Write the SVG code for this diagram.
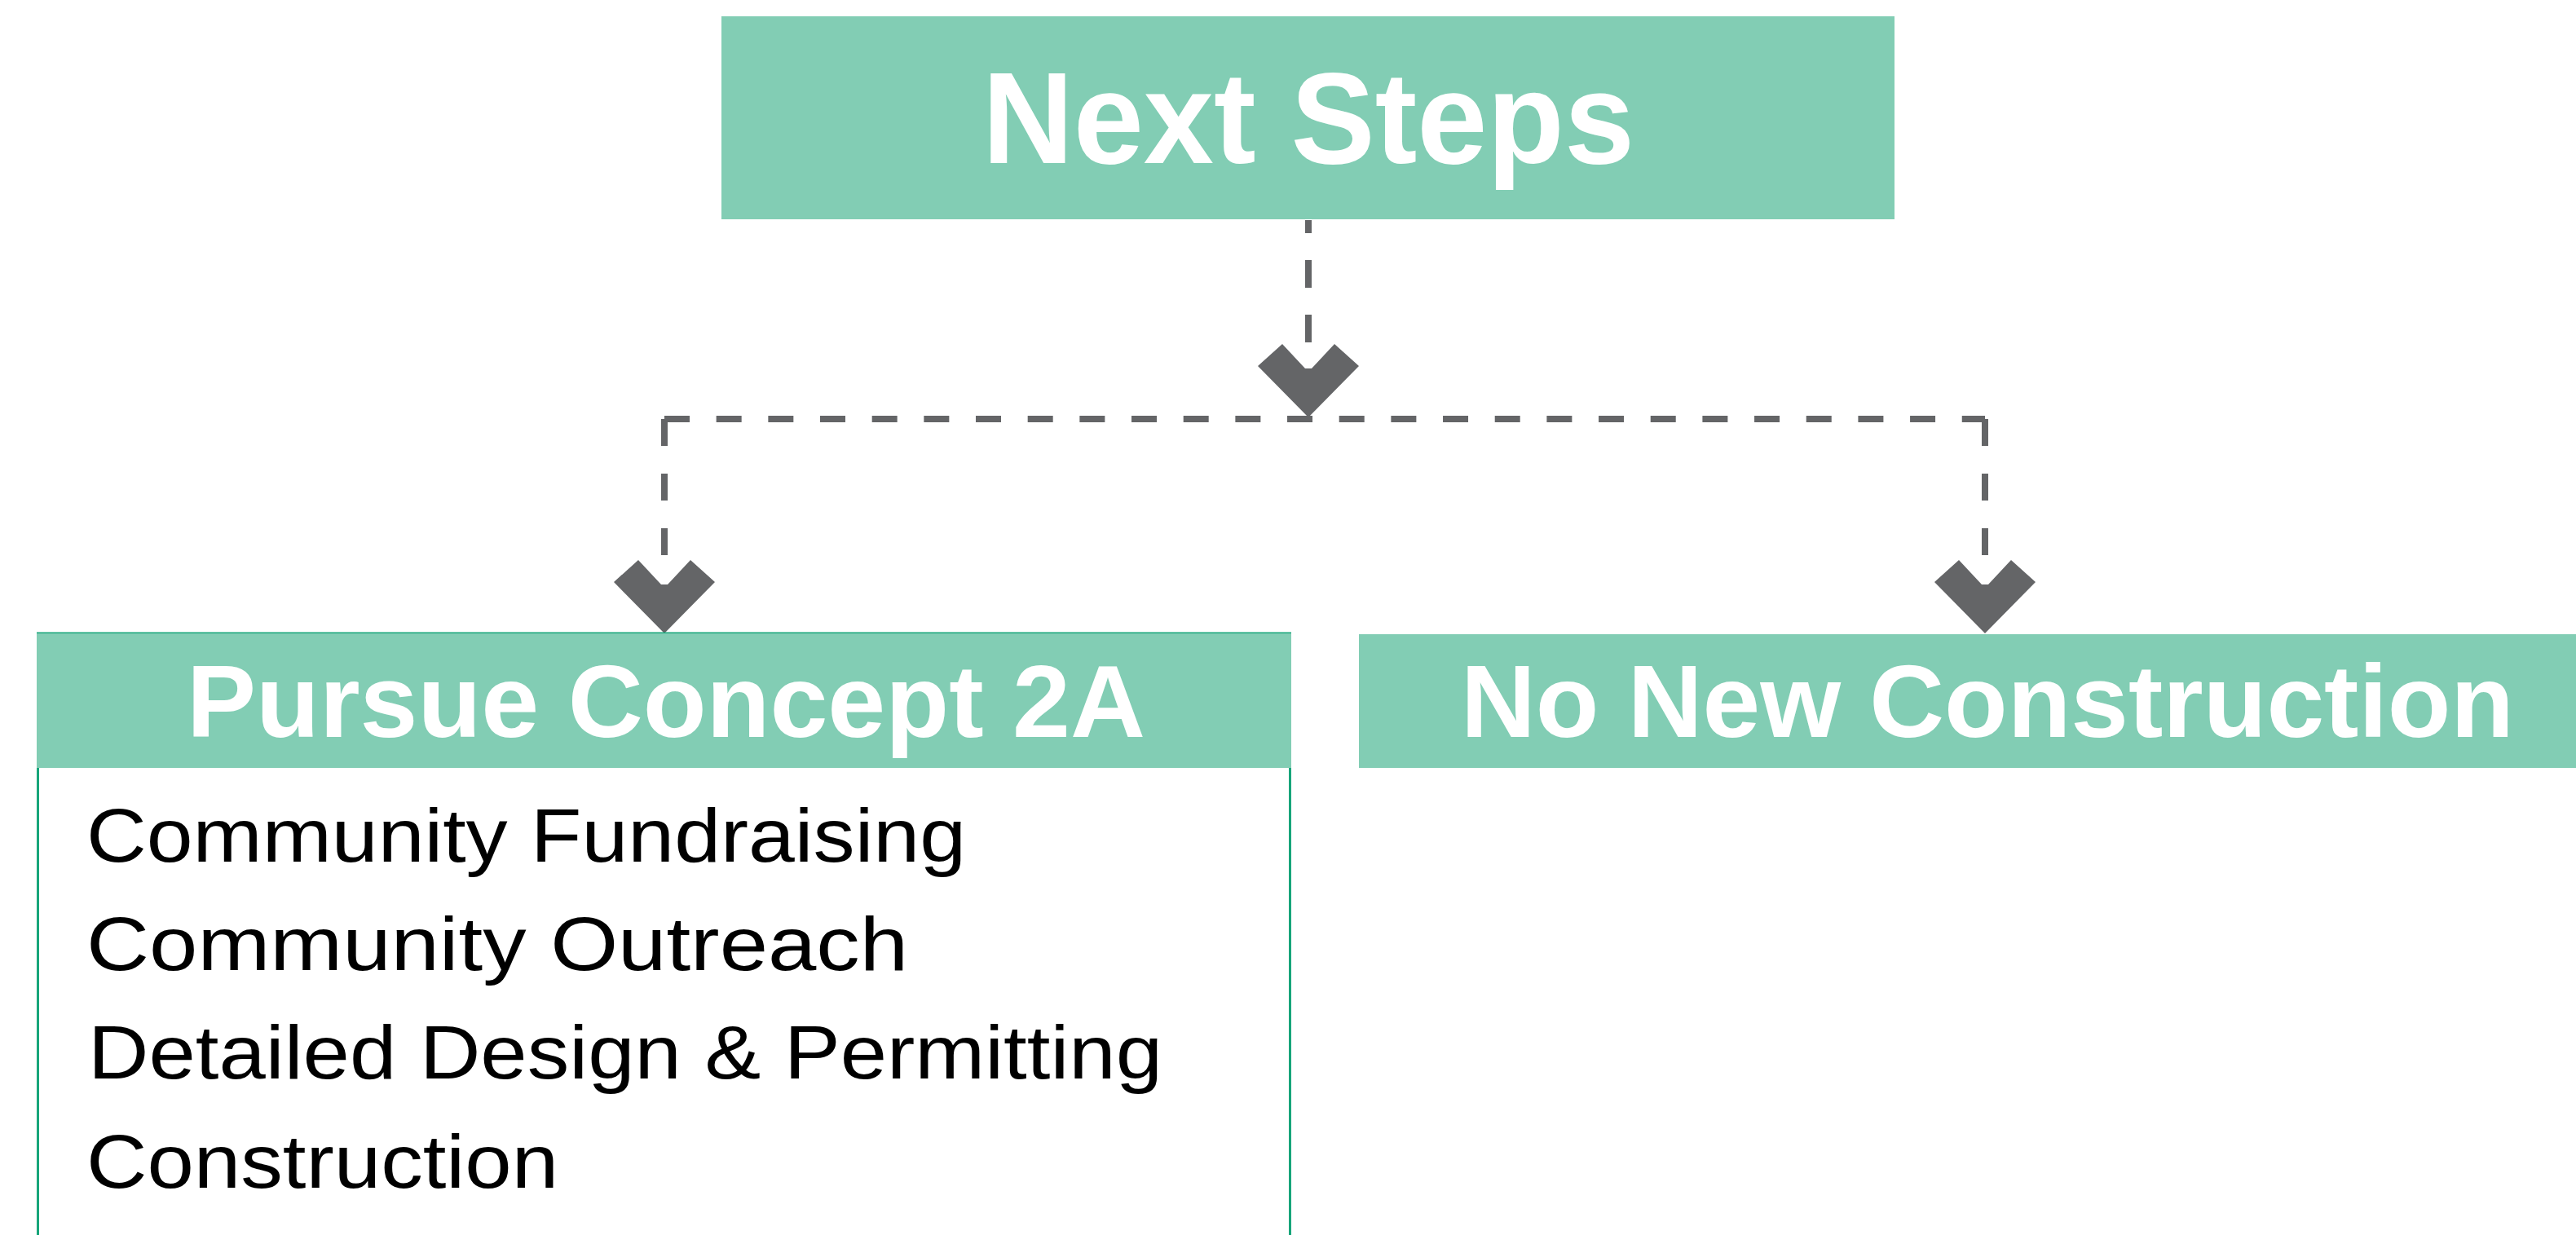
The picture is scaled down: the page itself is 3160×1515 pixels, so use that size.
<svg xmlns="http://www.w3.org/2000/svg" width="3160" height="1515" viewBox="0 0 3160 1515">
<style>
.hdr{fill:#82CDB4}
.htxt{fill:#FFFFFF;font-family:"Liberation Sans",Arial,sans-serif;font-weight:bold;text-anchor:middle}
.btxt{fill:#000000;font-family:"Liberation Sans",Arial,sans-serif;font-size:93px}
.conn{stroke:#646567;stroke-width:8;fill:none}
.arrow{fill:#646567}
</style>
<defs>
<path id="chev" d="M-62,-63 L-32,-90 L-4,-60 L4,-60 L32,-90 L62,-63 L0,0 Z"/>
</defs>
<rect width="3160" height="1515" fill="#FFFFFF"/>
<g id="connectors">
<line class="conn" x1="1605" y1="270" x2="1605" y2="421" stroke-dasharray="34 33" stroke-dashoffset="18"/>
<use href="#chev" class="arrow" x="1605" y="512"/>
<line class="conn" x1="815" y1="514" x2="2435" y2="514" stroke-dasharray="31 32.67"/>
<line class="conn" x1="815" y1="514" x2="815" y2="682" stroke-dasharray="33 34"/>
<line class="conn" x1="2435" y1="514" x2="2435" y2="682" stroke-dasharray="33 34"/>
<use href="#chev" class="arrow" x="815" y="777"/>
<use href="#chev" class="arrow" x="2435" y="777"/>
</g>
<g id="next-steps">
<rect class="hdr" x="885" y="20" width="1439" height="249"/>
<text class="htxt" x="1605" y="200" font-size="160" textLength="800" lengthAdjust="spacingAndGlyphs">Next Steps</text>
</g>
<g id="pursue-concept-2a">
<rect x="46.5" y="777" width="1536" height="800" fill="none" stroke="#17A57A" stroke-width="3"/>
<rect class="hdr" x="45" y="777" width="1539" height="165"/>
<text class="htxt" x="817" y="904" font-size="127" textLength="1176" lengthAdjust="spacingAndGlyphs">Pursue Concept 2A</text>
<text class="btxt" x="106" y="1057" textLength="1079" lengthAdjust="spacingAndGlyphs">Community Fundraising</text>
<text class="btxt" x="106" y="1190" textLength="1008" lengthAdjust="spacingAndGlyphs">Community Outreach</text>
<text class="btxt" x="108" y="1323" textLength="1318" lengthAdjust="spacingAndGlyphs">Detailed Design &amp; Permitting</text>
<text class="btxt" x="106" y="1457" textLength="579" lengthAdjust="spacingAndGlyphs">Construction</text>
</g>
<g id="no-new-construction">
<rect class="hdr" x="1667" y="778" width="1542" height="164"/>
<text class="htxt" x="2438" y="904" font-size="127" textLength="1292" lengthAdjust="spacingAndGlyphs">No New Construction</text>
</g>
</svg>
